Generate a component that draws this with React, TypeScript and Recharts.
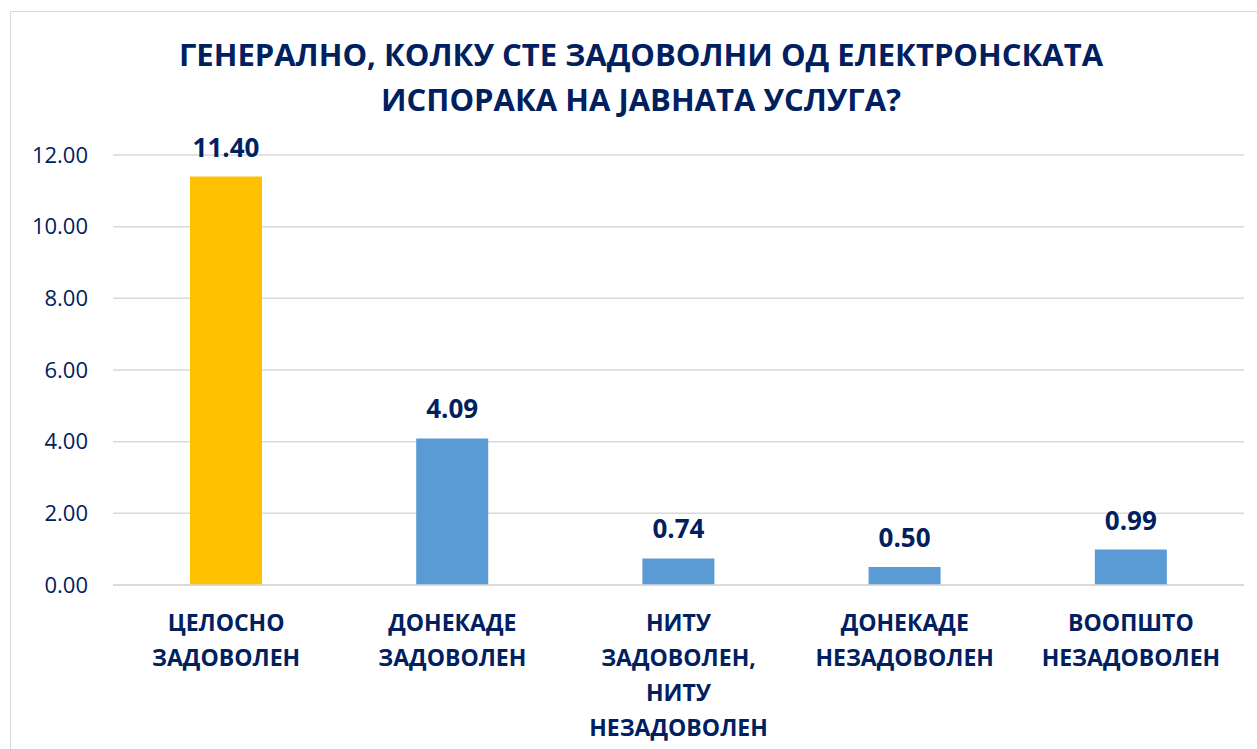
import { BarChart, Bar, XAxis, YAxis, CartesianGrid, LabelList, Cell } from "recharts";

const categories = [
  "ЦЕЛОСНО ЗАДОВОЛЕН",
  "ДОНЕКАДЕ ЗАДОВОЛЕН",
  "НИТУ ЗАДОВОЛЕН, НИТУ НЕЗАДОВОЛЕН",
  "ДОНЕКАДЕ НЕЗАДОВОЛЕН",
  "ВООПШТО НЕЗАДОВОЛЕН",
];

const categoryLines = [
  ["ЦЕЛОСНО", "ЗАДОВОЛЕН"],
  ["ДОНЕКАДЕ", "ЗАДОВОЛЕН"],
  ["НИТУ", "ЗАДОВОЛЕН,", "НИТУ", "НЕЗАДОВОЛЕН"],
  ["ДОНЕКАДЕ", "НЕЗАДОВОЛЕН"],
  ["ВООПШТО", "НЕЗАДОВОЛЕН"],
];

const values = [11.4, 4.09, 0.74, 0.5, 0.99];

const yTicks = [0, 2, 4, 6, 8, 10, 12];

const titleLines = [
  "ГЕНЕРАЛНО, КОЛКУ СТЕ ЗАДОВОЛНИ ОД ЕЛЕКТРОНСКАТА",
  "ИСПОРАКА НА ЈАВНАТА УСЛУГА?",
];

const NAVY = "#002060";
const GOLD = "#FFC000";
const BLUE = "#5B9BD5";
const GRID = "#d9d9d9";
const FONT = "'Open Sans', sans-serif";

const data = categories.map((name, i) => ({ name, value: values[i] }));

function CategoryTick(props: any) {
  const { x, y, payload } = props;
  const lines = categoryLines[payload.index] ?? [payload.value];
  return (
    <text
      x={x}
      y={y}
      textAnchor="middle"
      fill={NAVY}
      fontFamily={FONT}
      fontWeight={700}
      fontSize={23}
    >
      {lines.map((line, i) => (
        <tspan key={i} x={x} y={y + 46 + i * 35}>
          {line}
        </tspan>
      ))}
    </text>
  );
}

export default function App() {
  return (
    <div
      style={{
        position: "fixed",
        left: 0,
        top: 0,
        width: 1257,
        height: 749,
        overflow: "hidden",
        background: "#fff",
      }}
    >
      <div
        style={{
          position: "absolute",
          left: 10,
          top: 11,
          width: 1300,
          height: 800,
          border: `1px solid ${GRID}`,
          boxSizing: "border-box",
        }}
      />
      <div
        style={{
          position: "absolute",
          left: 0,
          top: 32,
          width: 1282,
          textAlign: "center",
          color: NAVY,
          fontFamily: FONT,
          fontWeight: 700,
          fontSize: 31,
          lineHeight: "45px",
        }}
      >
        {titleLines.map((t) => (
          <div key={t}>{t}</div>
        ))}
      </div>
      <div style={{ position: "absolute", left: 0, top: 0 }}>
        <BarChart
          width={1257}
          height={749}
          data={data}
          margin={{ top: 155, right: 13, bottom: 0, left: 0 }}
        >
          <CartesianGrid vertical={false} stroke={GRID} strokeWidth={1.5} />
          <XAxis
            dataKey="name"
            interval={0}
            height={164}
            tickSize={0}
            tickMargin={0}
            axisLine={{ stroke: GRID, strokeWidth: 1.5 }}
            tickLine={false}
            tick={<CategoryTick />}
          />
          <YAxis
            domain={[0, 12]}
            ticks={yTicks}
            width={113}
            tickSize={0}
            tickMargin={25}
            axisLine={false}
            tickLine={false}
            tickFormatter={(v: number) => v.toFixed(2)}
            tick={{ fill: NAVY, fontSize: 22, fontFamily: FONT }}
          />
          <Bar dataKey="value" barSize={72} isAnimationActive={false}>
            {data.map((d, i) => (
              <Cell key={d.name} fill={i === 0 ? GOLD : BLUE} />
            ))}
            <LabelList
              dataKey="value"
              position="top"
              offset={20}
              formatter={(v: any) => Number(v).toFixed(2)}
              fill={NAVY}
              fontSize={26}
              fontWeight={700}
              fontFamily={FONT}
            />
          </Bar>
        </BarChart>
      </div>
    </div>
  );
}
